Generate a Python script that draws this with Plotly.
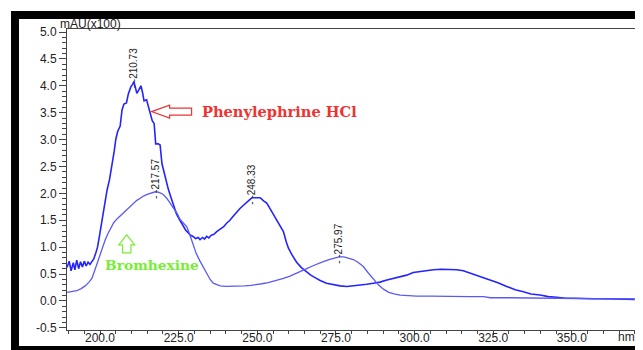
import plotly.graph_objects as go

# ---------------- data ----------------
phenyl_nm = [189.5, 190.2, 190.8, 191.5, 192.0, 192.6, 193.2, 193.8, 194.4, 195.0, 195.6, 196.2, 196.8, 197.4,
             198.0, 198.6, 199.2, 199.8, 200.3, 200.9, 201.5, 202.2, 203.0, 203.8, 204.5, 205.0, 205.6, 206.4,
             207.0, 207.6, 208.4, 209.0, 209.8, 210.4, 210.73, 211.2, 211.7, 212.3, 213.0, 213.5, 214.0, 214.8,
             215.4, 216.0, 216.6, 217.2, 217.7, 218.5, 219.1, 219.7, 220.2, 221.0, 221.7, 222.4, 223.3, 224.3,
             225.4, 226.4, 227.2, 228.0, 228.8, 229.6, 230.4, 231.2, 231.8, 232.6, 233.2, 233.9, 234.6, 235.3,
             236.2, 237.1, 238.2, 239.3, 240.3, 241.3, 242.4, 243.5, 244.5, 245.6, 246.6, 247.7, 248.33, 249.5,
             250.9, 252.0, 253.0, 254.0, 255.0, 256.2, 257.2, 258.3, 259.2, 259.9, 261.0, 262.5, 264.0, 265.5,
             267.0, 268.5, 270.0, 272.0, 274.2, 276.3, 278.5, 280.5, 282.7, 284.8, 286.9, 289.0, 291.2, 293.3,
             295.4, 297.5, 299.6, 302.0, 304.0, 306.0, 308.5, 311.3, 313.4, 315.5, 317.0, 318.7, 321.0, 324.0,
             326.5, 329.3, 332.0, 334.6, 337.0, 339.9, 342.5, 345.2, 348.0, 351.0, 353.7, 357.0, 360.0, 365.0, 370.0]
phenyl_abs = [0.62, 0.74, 0.56, 0.71, 0.58, 0.76, 0.60, 0.73, 0.63, 0.74, 0.65, 0.72, 0.68, 0.74,
              0.78, 0.88, 1.00, 1.20, 1.38, 1.58, 1.85, 2.05, 2.25, 2.50, 2.78, 3.00, 3.15, 3.25,
              3.55, 3.66, 3.68, 3.85, 3.98, 4.03, 4.08, 3.98, 3.86, 3.92, 4.00, 3.88, 3.72, 3.74,
              3.62, 3.50, 3.35, 3.30, 2.92, 2.92, 2.90, 2.55, 2.42, 2.20, 2.08, 1.95, 1.78, 1.62,
              1.50, 1.40, 1.32, 1.27, 1.22, 1.20, 1.16, 1.18, 1.14, 1.18, 1.15, 1.20, 1.17, 1.22,
              1.24, 1.29, 1.33, 1.38, 1.45, 1.50, 1.58, 1.66, 1.72, 1.78, 1.84, 1.89, 1.92, 1.92,
              1.92, 1.86, 1.82, 1.72, 1.62, 1.50, 1.40, 1.29, 1.10, 0.98, 0.86, 0.72, 0.62, 0.55,
              0.48, 0.43, 0.38, 0.33, 0.30, 0.28, 0.27, 0.28, 0.29, 0.31, 0.33, 0.35, 0.39, 0.42,
              0.46, 0.48, 0.53, 0.55, 0.57, 0.58, 0.59, 0.59, 0.58, 0.56, 0.53, 0.50, 0.46, 0.40,
              0.34, 0.27, 0.21, 0.17, 0.13, 0.11, 0.08, 0.07, 0.05, 0.05, 0.04, 0.04, 0.04, 0.03, 0.03]

bromo_nm = [189.5, 191.0, 192.6, 194.0, 195.3, 196.5, 197.4, 198.4, 199.2, 200.0, 200.8, 201.6, 202.5, 203.4,
            204.3, 205.3, 206.4, 207.5, 208.5, 209.5, 210.6, 211.7, 212.8, 213.8, 215.0, 216.2, 217.57, 218.8,
            220.1, 221.2, 222.3, 223.4, 224.5, 225.4, 226.5, 227.6, 228.6, 229.7, 230.6, 231.7, 232.8, 233.9,
            235.0, 236.0, 237.1, 238.2, 240.0, 242.0, 243.5, 246.0, 248.0, 249.8, 251.5, 253.5, 256.2, 258.3,
            260.4, 262.5, 264.0, 265.7, 267.5, 269.0, 271.0, 272.8, 274.5, 275.97, 277.5, 279.0, 280.5, 282.0,
            283.7, 285.3, 286.9, 288.5, 290.1, 291.8, 293.5, 295.4, 298.0, 300.7, 305.0, 311.3, 317.6, 322.0,
            324.0, 330.4, 340.0, 350.0, 360.0, 370.0]
bromo_abs = [0.16, 0.17, 0.19, 0.23, 0.28, 0.35, 0.42, 0.58, 0.72, 0.86, 1.02, 1.13, 1.25, 1.36,
             1.45, 1.52, 1.58, 1.65, 1.70, 1.76, 1.82, 1.87, 1.91, 1.95, 1.98, 2.01, 2.03, 2.02,
             1.98, 1.91, 1.82, 1.72, 1.63, 1.52, 1.45, 1.38, 1.22, 1.02, 0.88, 0.75, 0.63, 0.53,
             0.40, 0.33, 0.30, 0.28, 0.27, 0.27, 0.27, 0.28, 0.29, 0.30, 0.32, 0.34, 0.38, 0.42,
             0.46, 0.51, 0.55, 0.60, 0.65, 0.69, 0.73, 0.77, 0.80, 0.82, 0.82, 0.80, 0.77, 0.72,
             0.64, 0.52, 0.40, 0.30, 0.22, 0.16, 0.13, 0.11, 0.10, 0.09, 0.09, 0.08, 0.08, 0.08,
             0.06, 0.06, 0.05, 0.05, 0.04, 0.04]

peak_nm = [210.73, 217.57, 248.33, 275.97]
peak_abs = [4.08, 2.03, 1.92, 0.82]

x_range = [189.5, 370.4]
y_range = [-0.54, 5.056]
x_ticks = [200, 225, 250, 275, 300, 325, 350]
y_ticks = [-0.5, 0.0, 0.5, 1.0, 1.5, 2.0, 2.5, 3.0, 3.5, 4.0, 4.5, 5.0]

# ---------------- figure ----------------
# the page body offsets the figure by 8 px; anything past the window is clipped
OFF = 8
W, H = 643 - OFF, 350 - OFF
ML, MT = 67 - OFF, 29 - OFF
MR = W - (636 - OFF)
MB = H - (330 - OFF)
pw, ph = W - ML - MR, H - MT - MB


def px_to_paper(px, py):
    """page pixel -> paper coordinates"""
    fx, fy = px - OFF, py - OFF
    return (fx - ML) / pw, (H - MB - fy) / ph


fig = go.Figure()
fig.add_trace(go.Scatter(x=phenyl_nm, y=phenyl_abs, mode="lines",
                         line=dict(color="#2424ff", width=1.6), showlegend=False))
fig.add_trace(go.Scatter(x=bromo_nm, y=bromo_abs, mode="lines",
                         line=dict(color="#5a5af2", width=1.3), showlegend=False))

annotations = []
for xn, ya in zip(peak_nm, peak_abs):
    annotations.append(dict(x=xn, y=ya, xref="x", yref="y", text="- -%.2f" % xn, textangle=-90,
                            showarrow=False, xanchor="center", yanchor="bottom", yshift=-9,
                            font=dict(family="Liberation Sans", size=10, color="#222222")))

annotations.append(dict(x=216.4, y=3.52, xref="x", yref="y", text="Phenylephrine HCl",
                        showarrow=False, xanchor="left", yanchor="middle", xshift=48,
                        font=dict(family="DejaVu Serif", size=14.6, color="#ee3333", weight="bold")))
annotations.append(dict(x=201.05, y=0.67, xref="x", yref="y", text="Bromhexine",
                        showarrow=False, xanchor="left", yanchor="middle",
                        font=dict(family="DejaVu Serif", size=13.8, color="#77ee33", weight="bold")))

mx, my = px_to_paper(58, 24)
annotations.append(dict(x=mx, y=my, xref="paper", yref="paper", text="mAU(x100)", showarrow=False,
                        xanchor="left", yanchor="middle",
                        font=dict(family="Liberation Sans", size=12, color="#222222")))
nx, ny = px_to_paper(626, 337)
annotations.append(dict(x=nx, y=ny, xref="paper", yref="paper", text="nm", showarrow=False,
                        xanchor="center", yanchor="middle",
                        font=dict(family="Liberation Sans", size=12, color="#222222")))

shapes = []
# red hollow arrow pointing left (pixel-sized, anchored at the curve)
shapes.append(dict(type="path", xref="x", yref="y", xsizemode="pixel", ysizemode="pixel",
                   xanchor=216.4, yanchor=3.52,
                   path="M 0 0 L 18 6.5 L 18 3.5 L 40 3.5 L 40 -3.5 L 18 -3.5 L 18 -6.5 Z",
                   line=dict(color="#ee3333", width=1.2), fillcolor="white"))
# green hollow arrow pointing up
shapes.append(dict(type="path", xref="x", yref="y", xsizemode="pixel", ysizemode="pixel",
                   xanchor=208.5, yanchor=1.23,
                   path="M 0 0 L 8 -10 L 4.2 -10 L 4.2 -18 L -4.2 -18 L -4.2 -10 L -8 -10 Z",
                   line=dict(color="#77ee33", width=1.2), fillcolor="white"))
# black outer frame
fx0, fy0 = px_to_paper(15, 15)
fx1, fy1 = px_to_paper(652, 350)
shapes.append(dict(type="rect", xref="paper", yref="paper", x0=fx0, y0=fy1, x1=fx1, y1=fy0,
                   line=dict(color="black", width=8), fillcolor="rgba(0,0,0,0)", layer="above"))

axis_font = dict(family="Liberation Sans", size=12, color="#222222")
fig.update_layout(
    template="none",
    width=W, height=H, margin=dict(l=ML, r=MR, t=MT, b=MB, autoexpand=False),
    paper_bgcolor="white", plot_bgcolor="white",
    annotations=annotations, shapes=shapes,
    xaxis=dict(range=x_range, tickvals=x_ticks, ticktext=["%.1f" % v for v in x_ticks],
               automargin=False, showgrid=False, zeroline=False, showline=True, mirror=True,
               linecolor="#444444", linewidth=1, ticks="outside", ticklen=4, tickcolor="#444444",
               tickfont=axis_font, ticklabelstandoff=-7,
               minor=dict(dtick=5, tick0=200, ticks="outside", ticklen=3, tickcolor="#444444")),
    yaxis=dict(range=y_range, tickvals=y_ticks, ticktext=["%.1f" % v for v in y_ticks],
               automargin=False, showgrid=False, zeroline=False, showline=True, mirror=True,
               linecolor="#444444", linewidth=1, ticks="outside", ticklen=7, tickcolor="#444444",
               tickfont=axis_font,
               minor=dict(dtick=0.1, tick0=0, ticks="outside", ticklen=4, tickcolor="#444444")),
)

fig.write_html("out.html")
